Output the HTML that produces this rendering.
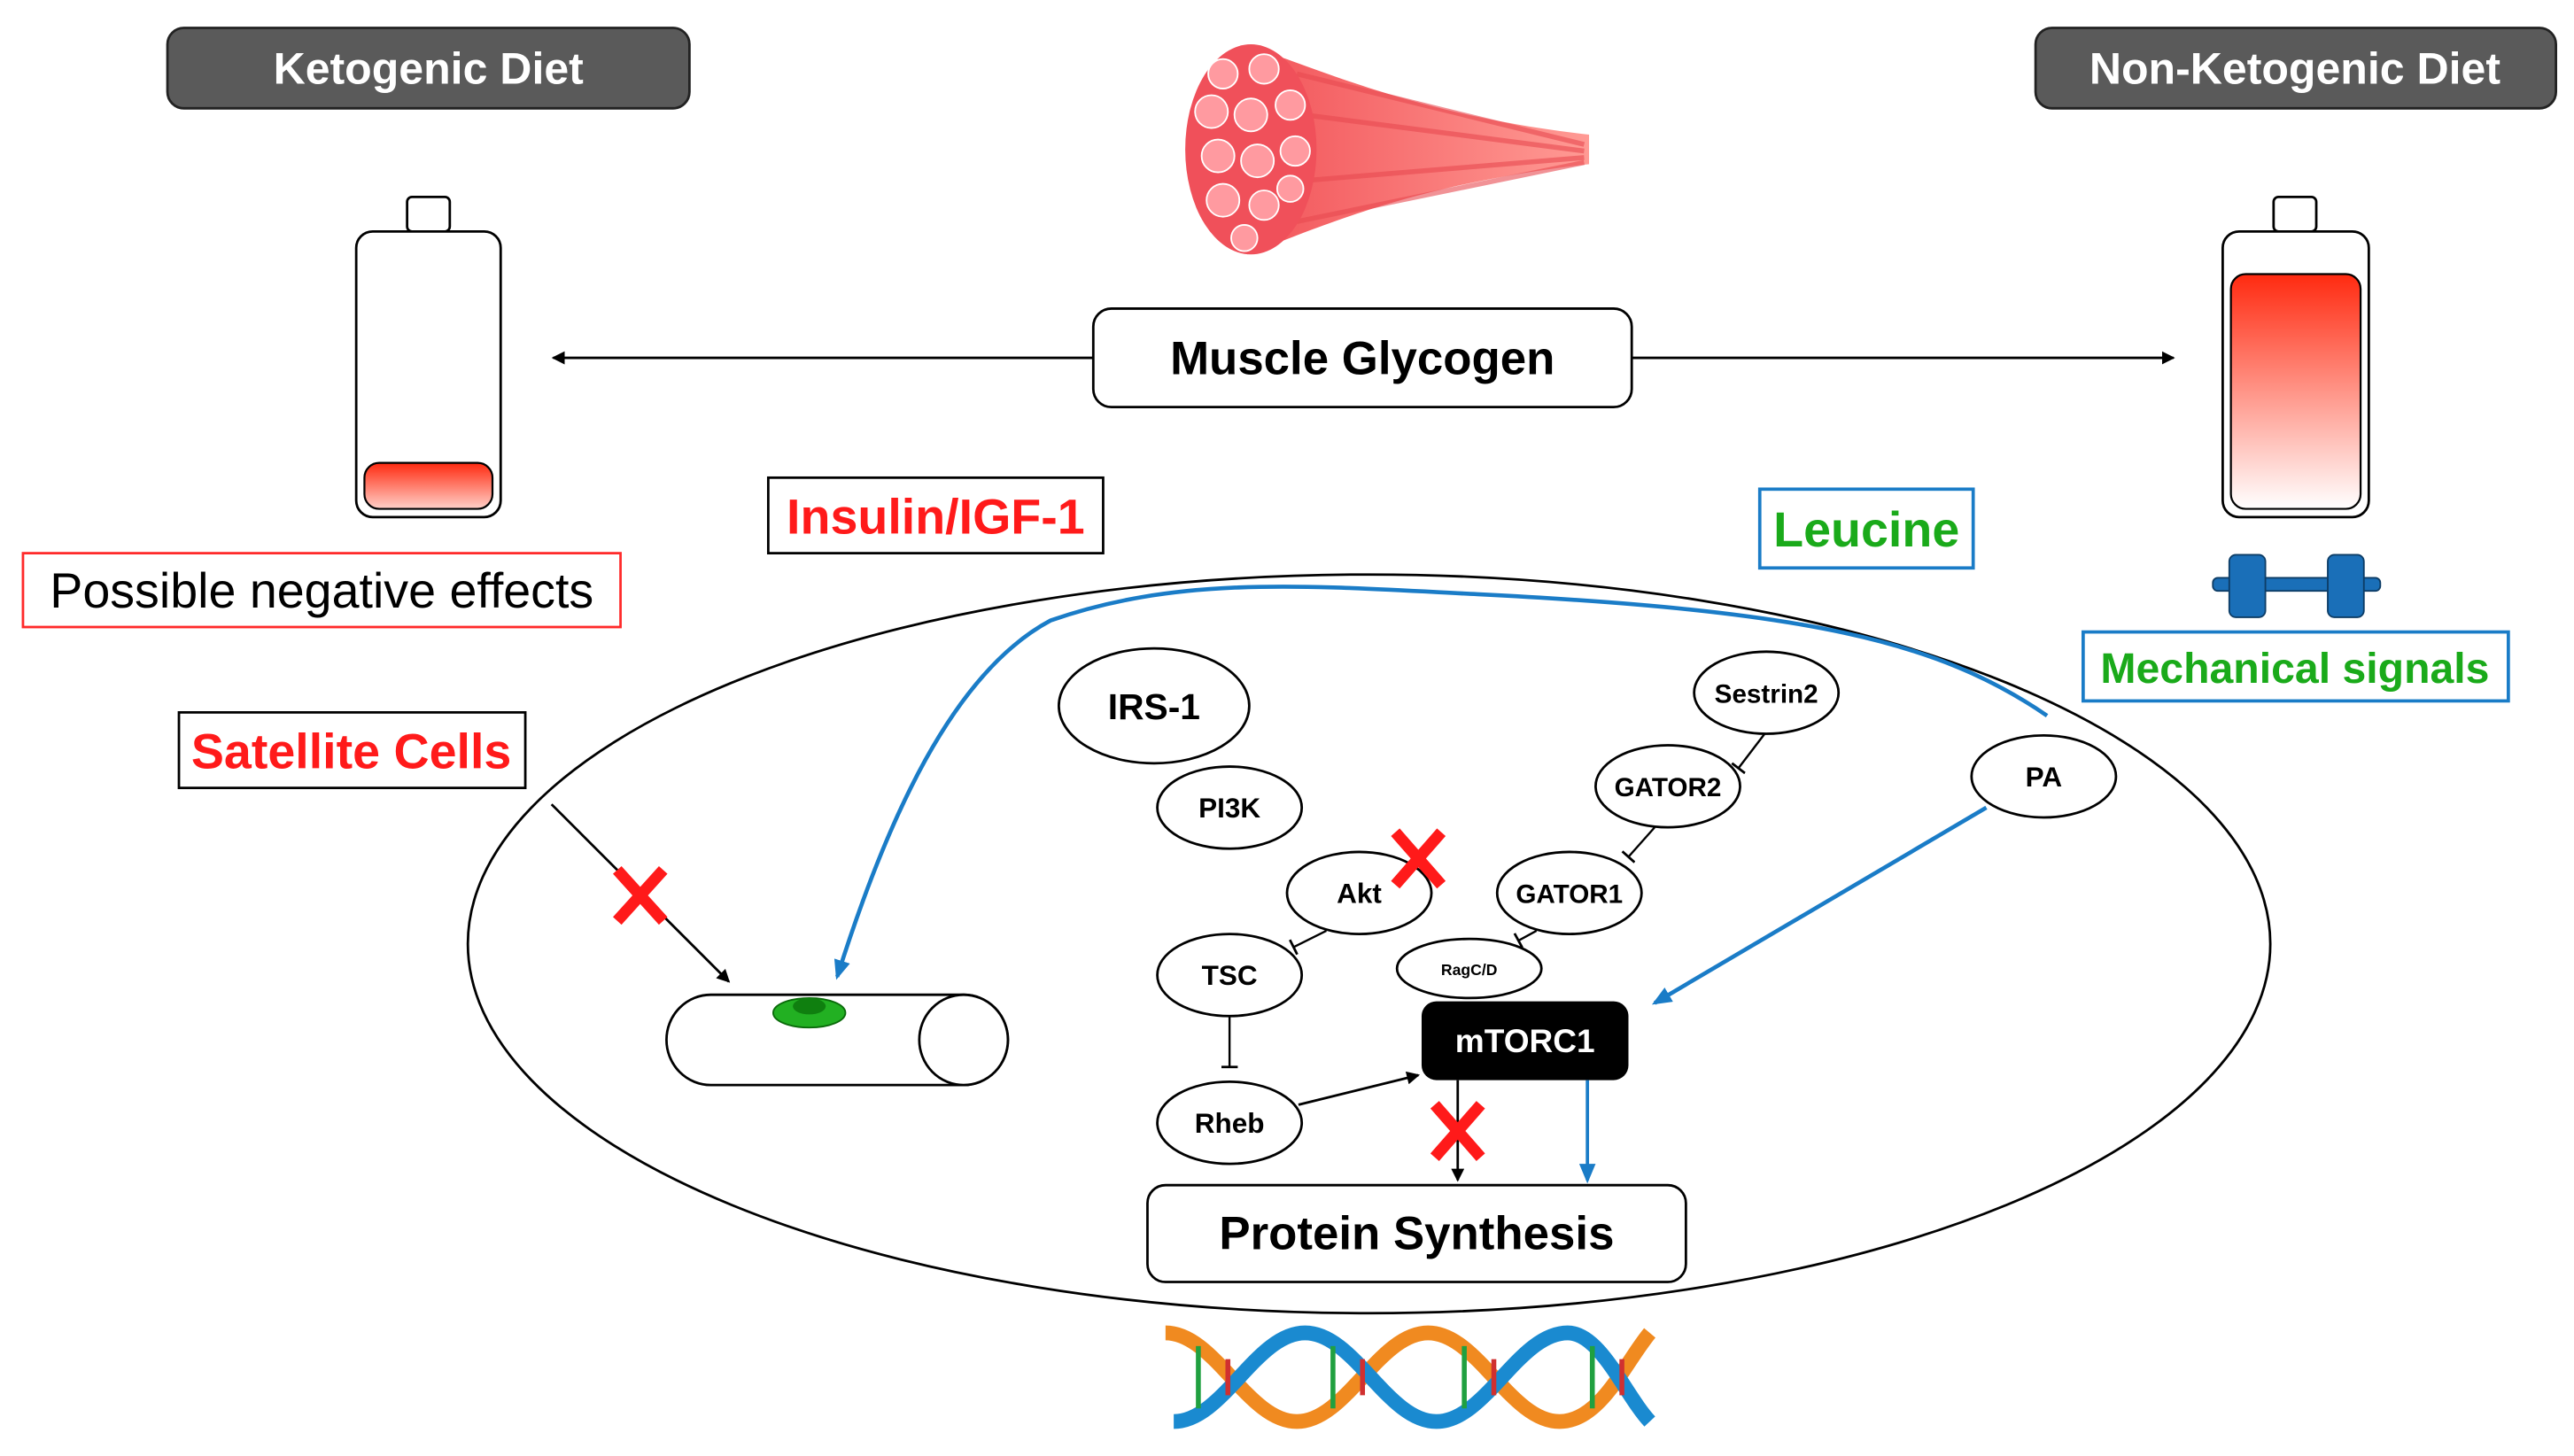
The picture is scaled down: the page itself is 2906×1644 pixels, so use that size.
<!DOCTYPE html>
<html><head><meta charset="utf-8"><style>
html,body{margin:0;padding:0;background:#fff}
svg{display:block}
text{font-family:"Liberation Sans",Arial,sans-serif}
</style></head><body>
<svg width="2906" height="1644" viewBox="0 0 1568 887" preserveAspectRatio="none" xmlns="http://www.w3.org/2000/svg">
<defs>
<linearGradient id="rg" x1="0" y1="0" x2="0" y2="1"><stop offset="0" stop-color="#ff2a10"/><stop offset="1" stop-color="#ffffff"/></linearGradient>
<linearGradient id="rg2" x1="0" y1="0" x2="0" y2="1"><stop offset="0" stop-color="#ff2a10"/><stop offset="1" stop-color="#ffd0c8"/></linearGradient>
<linearGradient id="mg" x1="0" y1="0" x2="1" y2="0"><stop offset="0" stop-color="#f2555a"/><stop offset="1" stop-color="#ff9a94"/></linearGradient>
<marker id="ab" markerWidth="8" markerHeight="8" refX="7" refY="4" orient="auto" markerUnits="userSpaceOnUse"><path d="M0,0 L8,4 L0,8 z" fill="#000"/></marker>
<marker id="abl" markerWidth="12" markerHeight="10" refX="10" refY="5" orient="auto" markerUnits="userSpaceOnUse"><path d="M0,0 L12,5 L0,10 z" fill="#1a7cc7"/></marker>
<marker id="bar" markerWidth="2" markerHeight="10" refX="1" refY="5" orient="auto" markerUnits="userSpaceOnUse"><path d="M1,0 L1,10" stroke="#000" stroke-width="1.5"/></marker>
</defs>

<rect x="102" y="17" width="318" height="49" rx="10" fill="#5a5a5a" stroke="#222" stroke-width="1.5"/>
<text x="261" y="51" font-size="27" font-weight="bold" fill="#fff" text-anchor="middle">Ketogenic Diet</text>
<rect x="1240" y="17" width="317" height="49" rx="10" fill="#5a5a5a" stroke="#222" stroke-width="1.5"/>
<text x="1398" y="51" font-size="27" font-weight="bold" fill="#fff" text-anchor="middle">Non-Ketogenic Diet</text>

<g>
<path d="M760,28 C800,40 860,70 968,82 L968,100 C860,112 800,140 760,155 Z" fill="url(#mg)"/>
<path d="M790,45 L965,88 M795,70 L965,92 M795,110 L965,96 M790,135 L965,99" stroke="#e84a50" stroke-width="3" fill="none" opacity="0.6"/>
<ellipse cx="762" cy="91" rx="40" ry="64" fill="#f0505a"/>
<g fill="#ff9aa0" stroke="#fff" stroke-width="1">
<circle cx="745" cy="45" r="9"/><circle cx="770" cy="42" r="9"/><circle cx="738" cy="68" r="10"/><circle cx="762" cy="70" r="10"/><circle cx="786" cy="64" r="9"/>
<circle cx="742" cy="95" r="10"/><circle cx="766" cy="98" r="10"/><circle cx="789" cy="92" r="9"/><circle cx="745" cy="122" r="10"/><circle cx="770" cy="125" r="9"/><circle cx="786" cy="115" r="8"/><circle cx="758" cy="145" r="8"/>
</g>
</g>

<rect x="248" y="120" width="26" height="21" rx="3" fill="#fff" stroke="#000" stroke-width="1.5"/>
<rect x="217" y="141" width="88" height="174" rx="10" fill="#fff" stroke="#000" stroke-width="1.5"/>
<rect x="222" y="282" width="78" height="28" rx="9" fill="url(#rg2)" stroke="#000" stroke-width="1.2"/>
<rect x="1385" y="120" width="26" height="21" rx="3" fill="#fff" stroke="#000" stroke-width="1.5"/>
<rect x="1354" y="141" width="89" height="174" rx="10" fill="#fff" stroke="#000" stroke-width="1.5"/>
<rect x="1359" y="167" width="79" height="143" rx="9" fill="url(#rg)" stroke="#000" stroke-width="1.2"/>

<line x1="666" y1="218" x2="337" y2="218" stroke="#000" stroke-width="1.5" marker-end="url(#ab)"/>
<line x1="994" y1="218" x2="1324" y2="218" stroke="#000" stroke-width="1.5" marker-end="url(#ab)"/>
<rect x="666" y="188" width="328" height="60" rx="11" fill="#fff" stroke="#000" stroke-width="1.5"/>
<text x="830" y="228" font-size="28.5" font-weight="bold" text-anchor="middle">Muscle Glycogen</text>

<rect x="468" y="291" width="204" height="46" fill="#fff" stroke="#000" stroke-width="1.5"/>
<text x="570" y="325" font-size="30" font-weight="bold" fill="#ff1a1a" text-anchor="middle">Insulin/IGF-1</text>
<rect x="1072" y="298" width="130" height="48" fill="#fff" stroke="#1a7cc7" stroke-width="2"/>
<text x="1137" y="333" font-size="30" font-weight="bold" fill="#1aaa1a" text-anchor="middle">Leucine</text>
<rect x="14" y="337" width="364" height="45" fill="#fff" stroke="#ff2a2a" stroke-width="1.5"/>
<text x="196" y="370" font-size="30" text-anchor="middle">Possible negative effects</text>
<rect x="1269" y="385" width="259" height="42" fill="#fff" stroke="#1a7cc7" stroke-width="2"/>
<text x="1398" y="416" font-size="26" font-weight="bold" fill="#1aaa1a" text-anchor="middle">Mechanical signals</text>
<rect x="109" y="434" width="211" height="46" fill="#fff" stroke="#000" stroke-width="1.5"/>
<text x="214" y="468" font-size="30" font-weight="bold" fill="#ff1a1a" text-anchor="middle">Satellite Cells</text>

<g fill="#1a6fb8" stroke="#0d3d66" stroke-width="1">
<rect x="1348" y="352" width="102" height="8" rx="3"/>
<rect x="1358" y="338" width="22" height="38" rx="4"/>
<rect x="1418" y="338" width="22" height="38" rx="4"/>
</g>

<ellipse cx="834" cy="575" rx="549" ry="225" fill="none" stroke="#000" stroke-width="1.5"/>

<path d="M1247,436 C1180,390 1100,372 900,362 C800,357 720,350 640,378 C580,410 540,500 510,595" fill="none" stroke="#1a7cc7" stroke-width="2.5" marker-end="url(#abl)"/>
<line x1="1210" y1="492" x2="1008" y2="611" stroke="#1a7cc7" stroke-width="2.5" marker-end="url(#abl)"/>

<path d="M433,606 L587,606 A27,27.5 0 0 1 587,661 L433,661 A27,27.5 0 0 1 433,606 Z" fill="#fff" stroke="#000" stroke-width="1.5"/>
<ellipse cx="587" cy="633.5" rx="27" ry="27.5" fill="#fff" stroke="#000" stroke-width="1.5"/>
<ellipse cx="493" cy="617" rx="22" ry="9" fill="#22b022" stroke="#0a6a0a" stroke-width="1"/>
<ellipse cx="493" cy="613" rx="10" ry="5" fill="#0f7f0f"/>

<line x1="336" y1="490" x2="444" y2="598" stroke="#000" stroke-width="1.5" marker-end="url(#ab)"/>

<g fill="#fff" stroke="#000" stroke-width="1.5">
<ellipse cx="703" cy="430" rx="58" ry="35"/>
<ellipse cx="749" cy="492" rx="44" ry="25"/>
<ellipse cx="828" cy="544" rx="44" ry="25"/>
<ellipse cx="749" cy="594" rx="44" ry="25"/>
<ellipse cx="749" cy="684" rx="44" ry="25"/>
<ellipse cx="1076" cy="422" rx="44" ry="25"/>
<ellipse cx="1016" cy="479" rx="44" ry="25"/>
<ellipse cx="956" cy="544" rx="44" ry="25"/>
<ellipse cx="895" cy="590" rx="44" ry="18"/>
<ellipse cx="1245" cy="473" rx="44" ry="25"/>
</g>
<g text-anchor="middle" font-weight="bold">
<text x="703" y="438" font-size="22">IRS-1</text>
<text x="749" y="498" font-size="17">PI3K</text>
<text x="828" y="550" font-size="17">Akt</text>
<text x="749" y="600" font-size="17">TSC</text>
<text x="749" y="690" font-size="17">Rheb</text>
<text x="1076" y="428" font-size="16">Sestrin2</text>
<text x="1016" y="485" font-size="16">GATOR2</text>
<text x="956" y="550" font-size="16">GATOR1</text>
<text x="895" y="594" font-size="9.5">RagC/D</text>
<text x="1245" y="479" font-size="17">PA</text>
</g>

<g stroke="#000" stroke-width="1.3" fill="none">
<line x1="1075" y1="447" x2="1059" y2="468" marker-end="url(#bar)"/>
<line x1="1008" y1="504" x2="992" y2="522" marker-end="url(#bar)"/>
<line x1="936" y1="567" x2="925" y2="573" marker-end="url(#bar)"/>
<line x1="808" y1="567" x2="788" y2="577" marker-end="url(#bar)"/>
<line x1="749" y1="619" x2="749" y2="650" marker-end="url(#bar)"/>
</g>
<line x1="791" y1="673" x2="864" y2="655" stroke="#000" stroke-width="1.5" marker-end="url(#ab)"/>

<rect x="866" y="610" width="126" height="48" rx="9" fill="#000"/>
<text x="929" y="641" font-size="20" font-weight="bold" fill="#fff" text-anchor="middle">mTORC1</text>
<line x1="888" y1="658" x2="888" y2="719" stroke="#000" stroke-width="1.5" marker-end="url(#ab)"/>
<line x1="967" y1="658" x2="967" y2="719" stroke="#1a7cc7" stroke-width="2" marker-end="url(#abl)"/>

<rect x="699" y="722" width="328" height="59" rx="11" fill="#fff" stroke="#000" stroke-width="1.5"/>
<text x="863" y="761" font-size="28.5" font-weight="bold" text-anchor="middle">Protein Synthesis</text>

<g stroke="#ff1a1a" stroke-width="7" stroke-linecap="butt">
<path d="M376,530 L404,561 M404,530 L376,561"/>
<path d="M850,507 L878,539 M878,507 L850,539"/>
<path d="M874,673 L902,705 M902,673 L874,705"/>
</g>

<g fill="none" stroke-width="9">
<path d="M710,812 C740,812 760,866 790,866 C820,866 840,812 870,812 C900,812 920,866 950,866 C975,866 990,830 1005,812" stroke="#f08a20"/>
<path d="M715,866 C745,866 765,812 795,812 C825,812 845,866 875,866 C905,866 925,812 955,812 C975,812 990,850 1005,866" stroke="#1a8ad0"/>
</g>
<g stroke-width="3">
<line x1="730" y1="820" x2="730" y2="858" stroke="#20a040"/><line x1="748" y1="828" x2="748" y2="850" stroke="#d03030"/>
<line x1="812" y1="820" x2="812" y2="858" stroke="#20a040"/><line x1="830" y1="828" x2="830" y2="850" stroke="#d03030"/>
<line x1="892" y1="820" x2="892" y2="858" stroke="#20a040"/><line x1="910" y1="828" x2="910" y2="850" stroke="#d03030"/>
<line x1="970" y1="820" x2="970" y2="858" stroke="#20a040"/><line x1="988" y1="828" x2="988" y2="850" stroke="#d03030"/>
</g>
</svg>
</body></html>
